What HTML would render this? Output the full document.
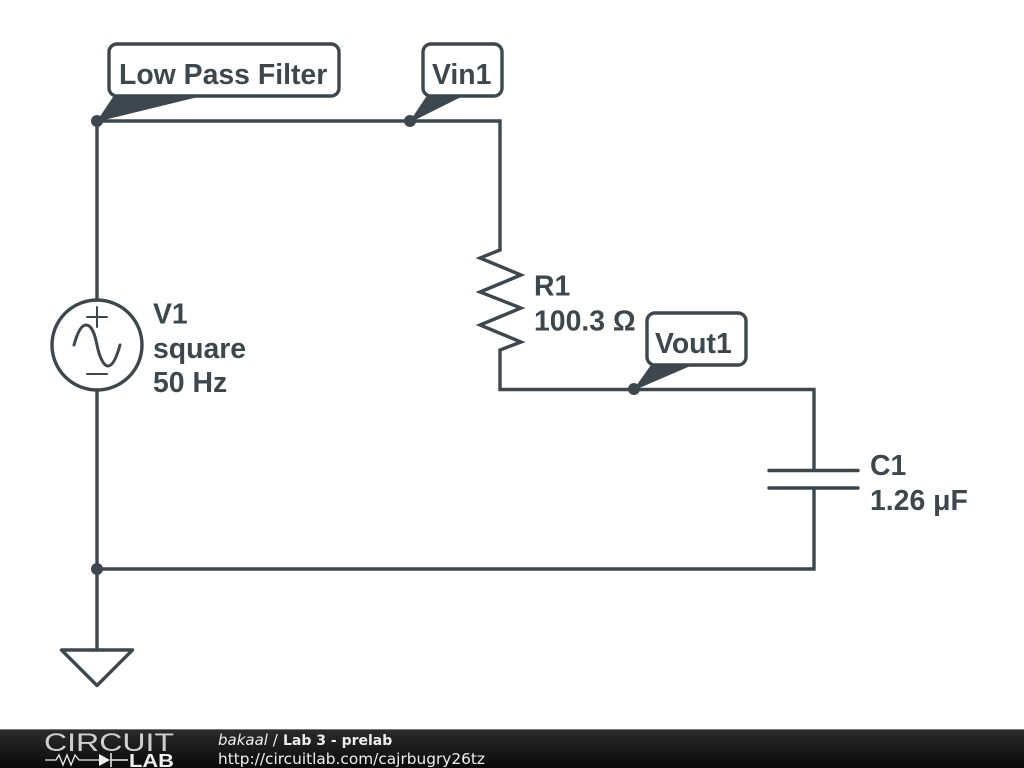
<!DOCTYPE html>
<html>
<head>
<meta charset="utf-8">
<style>
html,body{margin:0;padding:0;background:#fff;}
body{width:1024px;height:768px;overflow:hidden;}
svg{display:block;}
.t{font-family:"Liberation Sans",Arial,sans-serif;font-weight:bold;font-size:28.4px;fill:#3d474d;}
</style>
</head>
<body>
<svg width="1024" height="768" viewBox="0 0 1024 768" xmlns="http://www.w3.org/2000/svg">
<defs>
<linearGradient id="bar" x1="0" y1="0" x2="0" y2="1">
<stop offset="0" stop-color="#2c2c2c"/>
<stop offset="1" stop-color="#0a0a0a"/>
</linearGradient>
</defs>
<rect width="1024" height="768" fill="#fff"/>
<g fill="none" stroke="#3d474d" stroke-width="3.4" stroke-linecap="round" stroke-linejoin="miter">
<path d="M97 121H500V250"/>
<path d="M500 250L480 258L521 275L480 292L521 308L480 325L521 342L500 350V389.500H814V470"/>
<path d="M97 121V300"/>
<path d="M97 390V650"/>
<path d="M97 569H814V489"/>
<path d="M769 470.500H858"/>
<path d="M769 488H858"/>
<path d="M61.500 650H132.500L97 685.500Z" stroke-linejoin="round"/>
<circle cx="97" cy="345" r="45"/>
<path d="M74 345C77 334 81 325 86 325C92 325 95 335 97 345C99 355 103 366 108 366C113 366 117 356 120 345" stroke-width="3"/>
<path d="M97 307V327M87 317H107M87 374H107" stroke-width="2"/>
</g>
<g fill="#3d474d">
<circle cx="97" cy="121" r="6"/>
<circle cx="410" cy="121" r="6"/>
<circle cx="634" cy="389" r="6"/>
<circle cx="97" cy="569" r="6"/>
<path d="M97 121L115 94H202V96L100 121Z"/>
<path d="M410 121L428 94H463V96L413 121Z"/>
<path d="M634 389L653 362H695V364L637 389Z"/>
</g>
<g fill="#fff" stroke="#3d474d" stroke-width="3.400">
<rect x="109" y="44" width="230" height="52" rx="8"/>
<rect x="423" y="44" width="79" height="52" rx="8"/>
<rect x="647" y="313" width="99" height="52" rx="8"/>
</g>
<text class="t" x="119" y="84">Low Pass Filter</text>
<text class="t" x="432" y="84">Vin1</text>
<text class="t" x="655" y="353">Vout1</text>
<text class="t" x="153" y="323.500">V1</text>
<text class="t" x="153" y="358">square</text>
<text class="t" x="153" y="392">50 Hz</text>
<text class="t" x="534" y="295.500">R1</text>
<text class="t" x="534" y="330.500">100.3 Ω</text>
<text class="t" x="870" y="475">C1</text>
<text class="t" x="870" y="510">1.26 μF</text>
<rect y="729" width="1024" height="39" fill="url(#bar)"/>
<rect y="729" width="1024" height="1" fill="#777"/>
<text x="44" y="751" font-family="Liberation Sans,sans-serif" font-size="25" fill="#cfcfcf" textLength="130" lengthAdjust="spacingAndGlyphs">CIRCUIT</text>
<path d="M45 760H56L59 755L63 765L67 755L71 765L75 755L79 760H99" fill="none" stroke="#eee" stroke-width="1.300"/>
<path d="M99 754L110 760L99 766Z" fill="#eee"/>
<path d="M111 753V767M111 760H128" fill="none" stroke="#eee" stroke-width="1.500"/>
<text x="129" y="767" font-family="Liberation Sans,sans-serif" font-weight="bold" font-size="18" fill="#eee" textLength="45" lengthAdjust="spacingAndGlyphs">LAB</text>
<text x="218" y="745" font-family="DejaVu Sans,sans-serif" font-size="15" fill="#eee"><tspan font-style="italic">bakaal</tspan> /</text>
<text x="283" y="745" font-family="DejaVu Sans,sans-serif" font-size="14" font-weight="bold" fill="#eee">Lab 3 - prelab</text>
<text x="218" y="764" font-family="DejaVu Sans,sans-serif" font-size="15.350" fill="#eee">http://circuitlab.com/cajrbugry26tz</text>
</svg>
</body>
</html>
